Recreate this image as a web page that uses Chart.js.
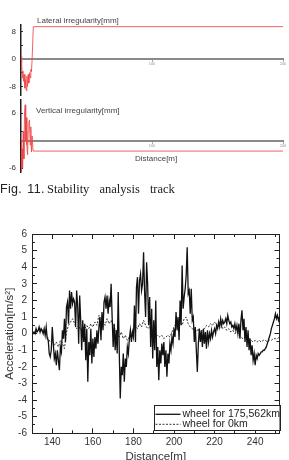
<!DOCTYPE html>
<html>
<head>
<meta charset="utf-8">
<script src="https://cdn.jsdelivr.net/npm/chart.js@4.4.1/dist/chart.umd.min.js"></script>
<style>
  html, body { margin: 0; padding: 0; background: #fff; width: 289px; height: 460px; overflow: hidden; }
  canvas { position: absolute; left: 0; }
  .lbl { position: absolute; font-family: 'Liberation Sans', Arial, sans-serif; color: #444; white-space: nowrap; line-height: 1; }
  .cap1 { position: absolute; left: 0; top: 182px; font-family: 'Liberation Sans', Arial, sans-serif; font-size: 12.5px; letter-spacing: 0.3px; word-spacing: 1.5px; color: #222; white-space: nowrap; }
  .cap2 { position: absolute; left: 47px; top: 182px; font-family: 'Liberation Serif', 'Times New Roman', serif; font-size: 12.5px; word-spacing: 7px; color: #222; white-space: nowrap; }
</style>
</head>
<body>
<canvas id="lateralChart" width="289" height="98" style="top:0"></canvas>
<canvas id="verticalChart" width="289" height="82" style="top:95px"></canvas>
<div class="lbl" style="left:37px; top:17px; font-size:8px;">Lateral irregularity[mm]</div>
<div class="lbl" style="left:36px; top:107px; font-size:8px;">Vertical irregularity[mm]</div>
<div class="lbl" style="left:135px; top:155px; font-size:8px;">Distance[m]</div>
<div class="cap1">Fig. 11.</div>
<div class="cap2">Stability analysis track</div>
<canvas id="accelChart" width="289" height="250" style="top:214px"></canvas>

<script>
// ---- datos de la pista (figura superior) ----
const latDist = [0, 0.5, 1, 1.5, 2, 2.5, 3, 3.5, 4, 4.5, 5, 5.5, 6, 6.5, 7, 7.5, 8, 8.5, 9.4, 200];
const latIrr = [0.7, -1, -5.5, -3.5, -6.5, -4.5, -8.5, -6, -9.2, -5, -8, -4.5, -7, -4, -5.5, -3, -3.7, 0, 9.4, 9.4];
const vertDist = [0, 0.3, 0.8, 1.2, 1.7, 2.2, 2.7, 3.2, 3.6, 4, 4.5, 5, 5.5, 6, 6.5, 7, 7.5, 8, 8.5, 9.2, 200];
const vertIrr = [0, -6.8, -2, -6, 2, -4, 6, 7.8, 0, 5, -1, -3.1, 2, 4, 4.5, -1, 3, -2.5, 1, -2.3, -2.3];
const latTicks = [-8, -6, -4, -2, 0, 2, 4, 6, 8];
const latLabels = [-8, 0, 8];
const vertTicks = [-6, -4, -2, 0, 2, 4, 6, 8];
const vertLabels = [-6, 0, 6];
const trackTicks = [100, 200];

// ---- datos de aceleracion (figura inferior) ----
const distA = [
  130, 130.5, 131, 131.5, 132, 132.5, 133, 133.5, 134, 134.5,
  135, 135.5, 136, 136.5, 137, 137.5, 138, 138.5, 139, 139.5,
  140, 140.5, 141, 141.5, 142, 142.5, 143, 143.5, 144, 144.5,
  145, 145.5, 146, 146.5, 147, 147.5, 148, 148.5, 149, 149.5,
  150, 150.5, 151, 151.5, 152, 152.5, 153, 153.5, 154, 154.5,
  155, 155.5, 156, 156.5, 157, 157.5, 158, 158.5, 159, 159.5,
  160, 160.5, 161, 161.5, 162, 162.5, 163, 163.5, 164, 164.5,
  165, 165.5, 166, 166.5, 167, 167.5, 168, 168.5, 169, 169.5,
  170, 170.5, 171, 171.5, 172, 172.5, 173, 173.5, 174, 174.5,
  175, 175.5, 176, 176.5, 177, 177.5, 178, 178.5, 179, 179.5,
  180, 180.5, 181, 181.5, 182, 182.5, 183, 183.5, 184, 184.5,
  185, 185.5, 186, 186.5, 187, 187.5, 188, 188.5, 189, 189.5,
  190, 190.5, 191, 191.5, 192, 192.5, 193, 193.5, 194, 194.5,
  195, 195.5, 196, 196.5, 197, 197.5, 198, 198.5, 199, 199.5,
  200, 200.5, 201, 201.5, 202, 202.5, 203, 203.5, 204, 204.5,
  205, 205.5, 206, 206.5, 207, 207.5, 208, 208.5, 209, 209.5,
  210, 210.5, 211, 211.5, 212, 212.5, 213, 213.5, 214, 214.5,
  215, 215.5, 216, 216.5, 217, 217.5, 218, 218.5, 219, 219.5,
  220, 220.5, 221, 221.5, 222, 222.5, 223, 223.5, 224, 224.5,
  225, 225.5, 226, 226.5, 227, 227.5, 228, 228.5, 229, 229.5,
  230, 230.5, 231, 231.5, 232, 232.5, 233, 233.5, 234, 234.5,
  235, 235.5, 236, 236.5, 237, 237.5, 238, 238.5, 239, 239.5,
  240, 240.5, 241, 241.5, 242, 242.5, 243, 243.5, 244, 244.5,
  245, 245.5, 246, 246.5, 247, 247.5, 248, 248.5, 249, 249.5,
  250, 250.5, 251, 251.5, 252
];
// wheel for 175,562km
const accelWorn = [
  0.0, 0.0, 0.1, 0.0, 0.3, 0.1, 0.2, 0.4, 0.1, 0.3,
  0.2, 0.0, 0.3, -0.1, 0.4, -0.3, -0.4, -1.2, -1.4, -1.0,
  0.4, -0.6, -1.5, -1.2, -1.9, -1.0, -1.6, -2.2, -0.8, -1.1,
  0.2, -0.3, 0.9, -0.5, 1.6, 1.9, 0.6, 2.6, 1.5, 2.5,
  1.8, 2.1, 1.9, 0.4, 2.6, 1.7, -0.6, 2.3, 0.8, -1.0,
  0.8, -0.5, 0.6, -1.6, 0.3, -2.9, -0.5, -1.3, 0.3, -1.8,
  -0.3, -1.4, -0.2, -0.9, 0.2, -0.6, 0.4, 1.0, -0.4, 1.3,
  0.2, 1.9, 2.2, 1.5, 2.3, 1.2, 2.0, 1.6, 3.0, 1.0,
  -0.8, 0.6, -1.0, 0.2, -1.2, 2.5, -1.0, -3.9, -2.0, -2.5,
  -1.2, -2.9, -1.5, -2.0, -0.8, -1.2, -0.3, 0.2, -0.5, 0.1,
  -0.2, 1.7, -0.5, 2.8, 3.4, 1.2, 3.2, 3.6, 2.6, 3.0,
  4.9, 2.5, 1.0, 4.3, 3.0, 0.5, 2.2, -0.8, 1.5, -1.5,
  0.8, -1.0, 2.0, -2.0, -0.8, -2.8, -1.0, -1.8, -0.6, -1.3,
  -0.5, -2.0, -1.0, -2.6, -1.2, -1.8, -0.6, -1.0, -0.2, -0.6,
  0.3, -0.2, 1.3, 0.2, 1.0, -0.4, 2.0, 0.5, 4.1, 1.5,
  2.2, 2.7, 3.5, 5.2, 2.4, 2.6, 1.2, 2.7, 0.8, 1.0,
  -0.5, 0.4, -1.0, -2.3, -0.6, 0.3, -0.5, 0.2, -0.8, 0.3,
  -0.6, 0.1, -0.9, 0.2, -0.5, 0.0, -0.3, 0.2, -0.2, 0.1,
  0.3, 0.0, 0.5, 0.3, 0.7, 0.4, 0.9, 0.5, 0.8, 0.6,
  0.7, 0.9, 0.6, 1.1, 0.8, 0.6, 0.7, 0.4, 0.5, 0.3,
  0.6, 0.2, 0.5, 0.0, 0.6, -0.3, 0.8, 1.4, 0.2, 0.9,
  -0.5, 0.4, -0.8, 0.2, -1.0, -0.3, -1.3, -0.7, -1.6, -1.2,
  -1.9, -1.3, -1.5, -1.2, -1.3, -1.2, -1.1, -1.1, -1.0, -1.0,
  -0.9, -0.8, -0.6, -0.4, -0.2, 0.0, 0.3, 0.5, 0.7, 0.9,
  1.2, 0.9, 1.1, 0.8, 1.0
];
const distB = [
  130, 131, 132, 133, 134, 135, 136, 137, 138, 139,
  140, 141, 142, 143, 144, 145, 146, 147, 148, 149,
  150, 151, 152, 153, 154, 155, 156, 157, 158, 159,
  160, 161, 162, 163, 164, 165, 166, 167, 168, 169,
  170, 171, 172, 173, 174, 175, 176, 177, 178, 179,
  180, 181, 182, 183, 184, 185, 186, 187, 188, 189,
  190, 191, 192, 193, 194, 195, 196, 197, 198, 199,
  200, 201, 202, 203, 204, 205, 206, 207, 208, 209,
  210, 211, 212, 213, 214, 215, 216, 217, 218, 219,
  220, 221, 222, 223, 224, 225, 226, 227, 228, 229,
  230, 231, 232, 233, 234, 235, 236, 237, 238, 239,
  240, 241, 242, 243, 244, 245, 246, 247, 248, 249,
  250, 251, 252
];
// wheel for 0km
const accelNew = [
  0.0, 0.0, 0.1, 0.2, 0.1, 0.2, 0.1, 0.0, -0.3, -0.5,
  -0.4, -0.7, -0.5, -0.8, -0.4, -0.6, -0.9, 0.1, 0.5, 0.7,
  0.9, 0.6, 0.3, 0.5, 0.2, 0.4, 0.3, 0.5, 0.3, 0.6,
  0.4, 0.7, 0.5, 1.1, 0.6, 0.8, 0.5, 0.9, 0.6, 0.8,
  0.5, 0.3, 0.0, -0.2, 0.1, -0.3, -0.1, -0.4, -0.2, 0.0,
  0.2, 0.5, 0.3, 0.6, 0.4, 0.8, 0.5, 0.3, 0.4, 0.1,
  0.0, -0.2, -0.1, -0.2, -0.1, -0.3, -0.2, -0.1, -0.2, 0.1,
  0.4, 0.6, 0.5, 0.7, 0.5, 0.9, 1.0, 0.6, 0.4, 0.3,
  0.2, 0.1, 0.3, 0.0, 0.2, 0.3, 0.5, 0.4, 0.6, 0.5,
  0.7, 0.5, 0.4, 0.6, 0.3, 0.4, 0.2, 0.3, 0.1, 0.2,
  0.0, 0.1, -0.1, -0.2, -0.3, -0.2, -0.4, -0.3, -0.4, -0.5,
  -0.4, -0.5, -0.4, -0.5, -0.4, -0.4, -0.5, -0.4, -0.4, -0.3,
  -0.3, -0.3, -0.2
];
const accelTicks = [-6, -5, -4, -3, -2, -1, 0, 1, 2, 3, 4, 5, 6];
const accelMinorTicks = [-5.5, -4.5, -3.5, -2.5, -1.5, -0.5, 0.5, 1.5, 2.5, 3.5, 4.5, 5.5];
const distTicks = [140, 160, 180, 200, 220, 240];
const distMinorTicks = [130, 150, 170, 190, 210, 230, 250];

Chart.defaults.font.family = "'Liberation Sans', Arial, sans-serif";
Chart.defaults.color = '#333';

function toPoints(xs, ys) {
    return xs.map((x, i) => ({ x: x, y: ys[i] }));
}

// grafico pequeño de irregularidad (rojo)
function trackChart(id, xs, ys, yMin, yMax, tickList, labelList, padTop, padBottom) {
    const ctx = document.getElementById(id);
    if (!ctx) return;
    new Chart(ctx.getContext('2d'), {
        type: 'line',
        data: {
            datasets: [{
                data: toPoints(xs, ys),
                borderColor: 'rgba(238, 70, 70, 0.85)',
                borderWidth: 1,
                pointRadius: 0,
                tension: 0
            }]
        },
        options: {
            responsive: false,
            animation: false,
            layout: { padding: { left: 0, right: 6, top: padTop, bottom: padBottom } },
            plugins: { legend: { display: false }, tooltip: { enabled: false } },
            scales: {
                x: {
                    type: 'linear',
                    min: 0, max: 200,
                    position: { y: 0 },
                    afterBuildTicks: s => { s.ticks = trackTicks.map(v => ({ value: v })); },
                    afterFit: s => { s.height = 0; s.paddingLeft = 0; s.paddingRight = 0; },
                    grid: { drawOnChartArea: false, tickLength: 2, tickColor: '#aaa' },
                    border: { color: '#8a8a8a', width: 2 },
                    ticks: { font: { size: 4 }, color: '#999', padding: 1, maxRotation: 0 }
                },
                y: {
                    type: 'linear',
                    min: yMin, max: yMax,
                    afterBuildTicks: s => { s.ticks = tickList.map(v => ({ value: v })); },
                    afterFit: s => { s.width = 21; s.paddingTop = 0; s.paddingBottom = 0; },
                    grid: { drawOnChartArea: false, tickLength: -2, tickColor: '#333' },
                    border: { color: '#222', width: 1.5 },
                    ticks: {
                        font: { size: 8 }, color: '#333', padding: 7,
                        callback: v => labelList.includes(v) ? String(v) : ''
                    }
                }
            }
        }
    });
}

trackChart('lateralChart', latDist, latIrr, -10.5, 10, latTicks, latLabels, 24.6, 2.9);
trackChart('verticalChart', vertDist, vertIrr, -7, 9, vertTicks, vertLabels, 4.3, 4.4);

// leyenda dentro del area del grafico
const boxLegend = {
    id: 'boxLegend',
    afterDraw(chart) {
        const c = chart.ctx;
        const a = chart.chartArea;
        const w = 126, h = 25;
        const x0 = a.right - w, y0 = a.bottom - h - 3;
        c.save();
        c.fillStyle = '#fff';
        c.fillRect(x0, y0, w, h);
        c.strokeStyle = '#222';
        c.lineWidth = 1;
        c.strokeRect(Math.round(x0) + 0.5, Math.round(y0) + 0.5, w, h);
        c.font = "10.5px 'Liberation Sans', Arial, sans-serif";
        c.textBaseline = 'middle';
        chart.data.datasets.forEach((ds, i) => {
            const yy = y0 + 9 + i * 10;
            c.strokeStyle = ds.borderColor;
            c.lineWidth = ds.borderWidth;
            c.setLineDash(ds.borderDash || []);
            c.beginPath();
            c.moveTo(x0 + 2, yy);
            c.lineTo(x0 + 27, yy);
            c.stroke();
            c.setLineDash([]);
            c.fillStyle = '#222';
            c.fillText(ds.label, x0 + 29, yy);
        });
        c.restore();
    }
};

function mirrorAxis(axis, pos, min, max, list, len, weight) {
    return {
        type: 'linear', axis: axis, position: pos, min: min, max: max, weight: weight,
        afterBuildTicks: s => { s.ticks = list.map(v => ({ value: v })); },
        afterFit: s => { if (axis === 'x') s.height = 0; else s.width = 0; },
        grid: { drawOnChartArea: false, tickLength: len, tickColor: '#222' },
        border: { display: weight > 0, color: '#222', width: 1 },
        ticks: { display: false }
    };
}

function crearGraficoAceleracion() {
    const ctx = document.getElementById('accelChart');
    if (!ctx) return;
    new Chart(ctx.getContext('2d'), {
        type: 'line',
        data: {
            datasets: [
                {
                    label: 'wheel for 175,562km',
                    data: toPoints(distA, accelWorn),
                    borderColor: '#111',
                    borderWidth: 1.3,
                    pointRadius: 0,
                    tension: 0
                },
                {
                    label: 'wheel for 0km',
                    data: toPoints(distB, accelNew),
                    borderColor: '#333',
                    borderWidth: 1,
                    borderDash: [2, 1.5],
                    pointRadius: 0,
                    tension: 0
                }
            ]
        },
        options: {
            responsive: false,
            animation: false,
            layout: { padding: { left: 0, right: 9.5, top: 20, bottom: 0.7 } },
            plugins: { legend: { display: false }, tooltip: { enabled: false } },
            scales: {
                x: {
                    type: 'linear', position: 'bottom', min: 130, max: 252, weight: 1,
                    afterBuildTicks: s => { s.ticks = distTicks.map(v => ({ value: v })); },
                    afterFit: s => { s.height = 30; },
                    grid: { drawOnChartArea: false, tickLength: -5, tickColor: '#222' },
                    border: { color: '#222', width: 1 },
                    ticks: { font: { size: 10 }, color: '#333', padding: 8, maxRotation: 0 },
                    title: { display: true, text: 'Distance[m]', font: { size: 11.5 }, color: '#333', padding: { top: 0, bottom: 0 } }
                },
                xMinor: mirrorAxis('x', 'bottom', 130, 252, distMinorTicks, -3, 0),
                xTop: mirrorAxis('x', 'top', 130, 252, distTicks, -5, 1),
                xTopMinor: mirrorAxis('x', 'top', 130, 252, distMinorTicks, -3, 0),
                y: {
                    type: 'linear', position: 'left', min: -6, max: 6, weight: 1,
                    afterBuildTicks: s => { s.ticks = accelTicks.map(v => ({ value: v })); },
                    afterFit: s => { s.width = 32; },
                    grid: { drawOnChartArea: false, tickLength: -5, tickColor: '#222' },
                    border: { color: '#222', width: 1 },
                    ticks: { font: { size: 10 }, color: '#333', padding: 10 },
                    title: { display: true, text: 'Acceleration[m/s²]', font: { size: 11.5 }, color: '#333', padding: { top: 3, bottom: 0 } }
                },
                yMinor: mirrorAxis('y', 'left', -6, 6, accelMinorTicks, -3, 0),
                yRight: mirrorAxis('y', 'right', -6, 6, accelTicks, -5, 1),
                yRightMinor: mirrorAxis('y', 'right', -6, 6, accelMinorTicks, -3, 0)
            }
        },
        plugins: [boxLegend]
    });
}

crearGraficoAceleracion();
</script>
</body>
</html>
